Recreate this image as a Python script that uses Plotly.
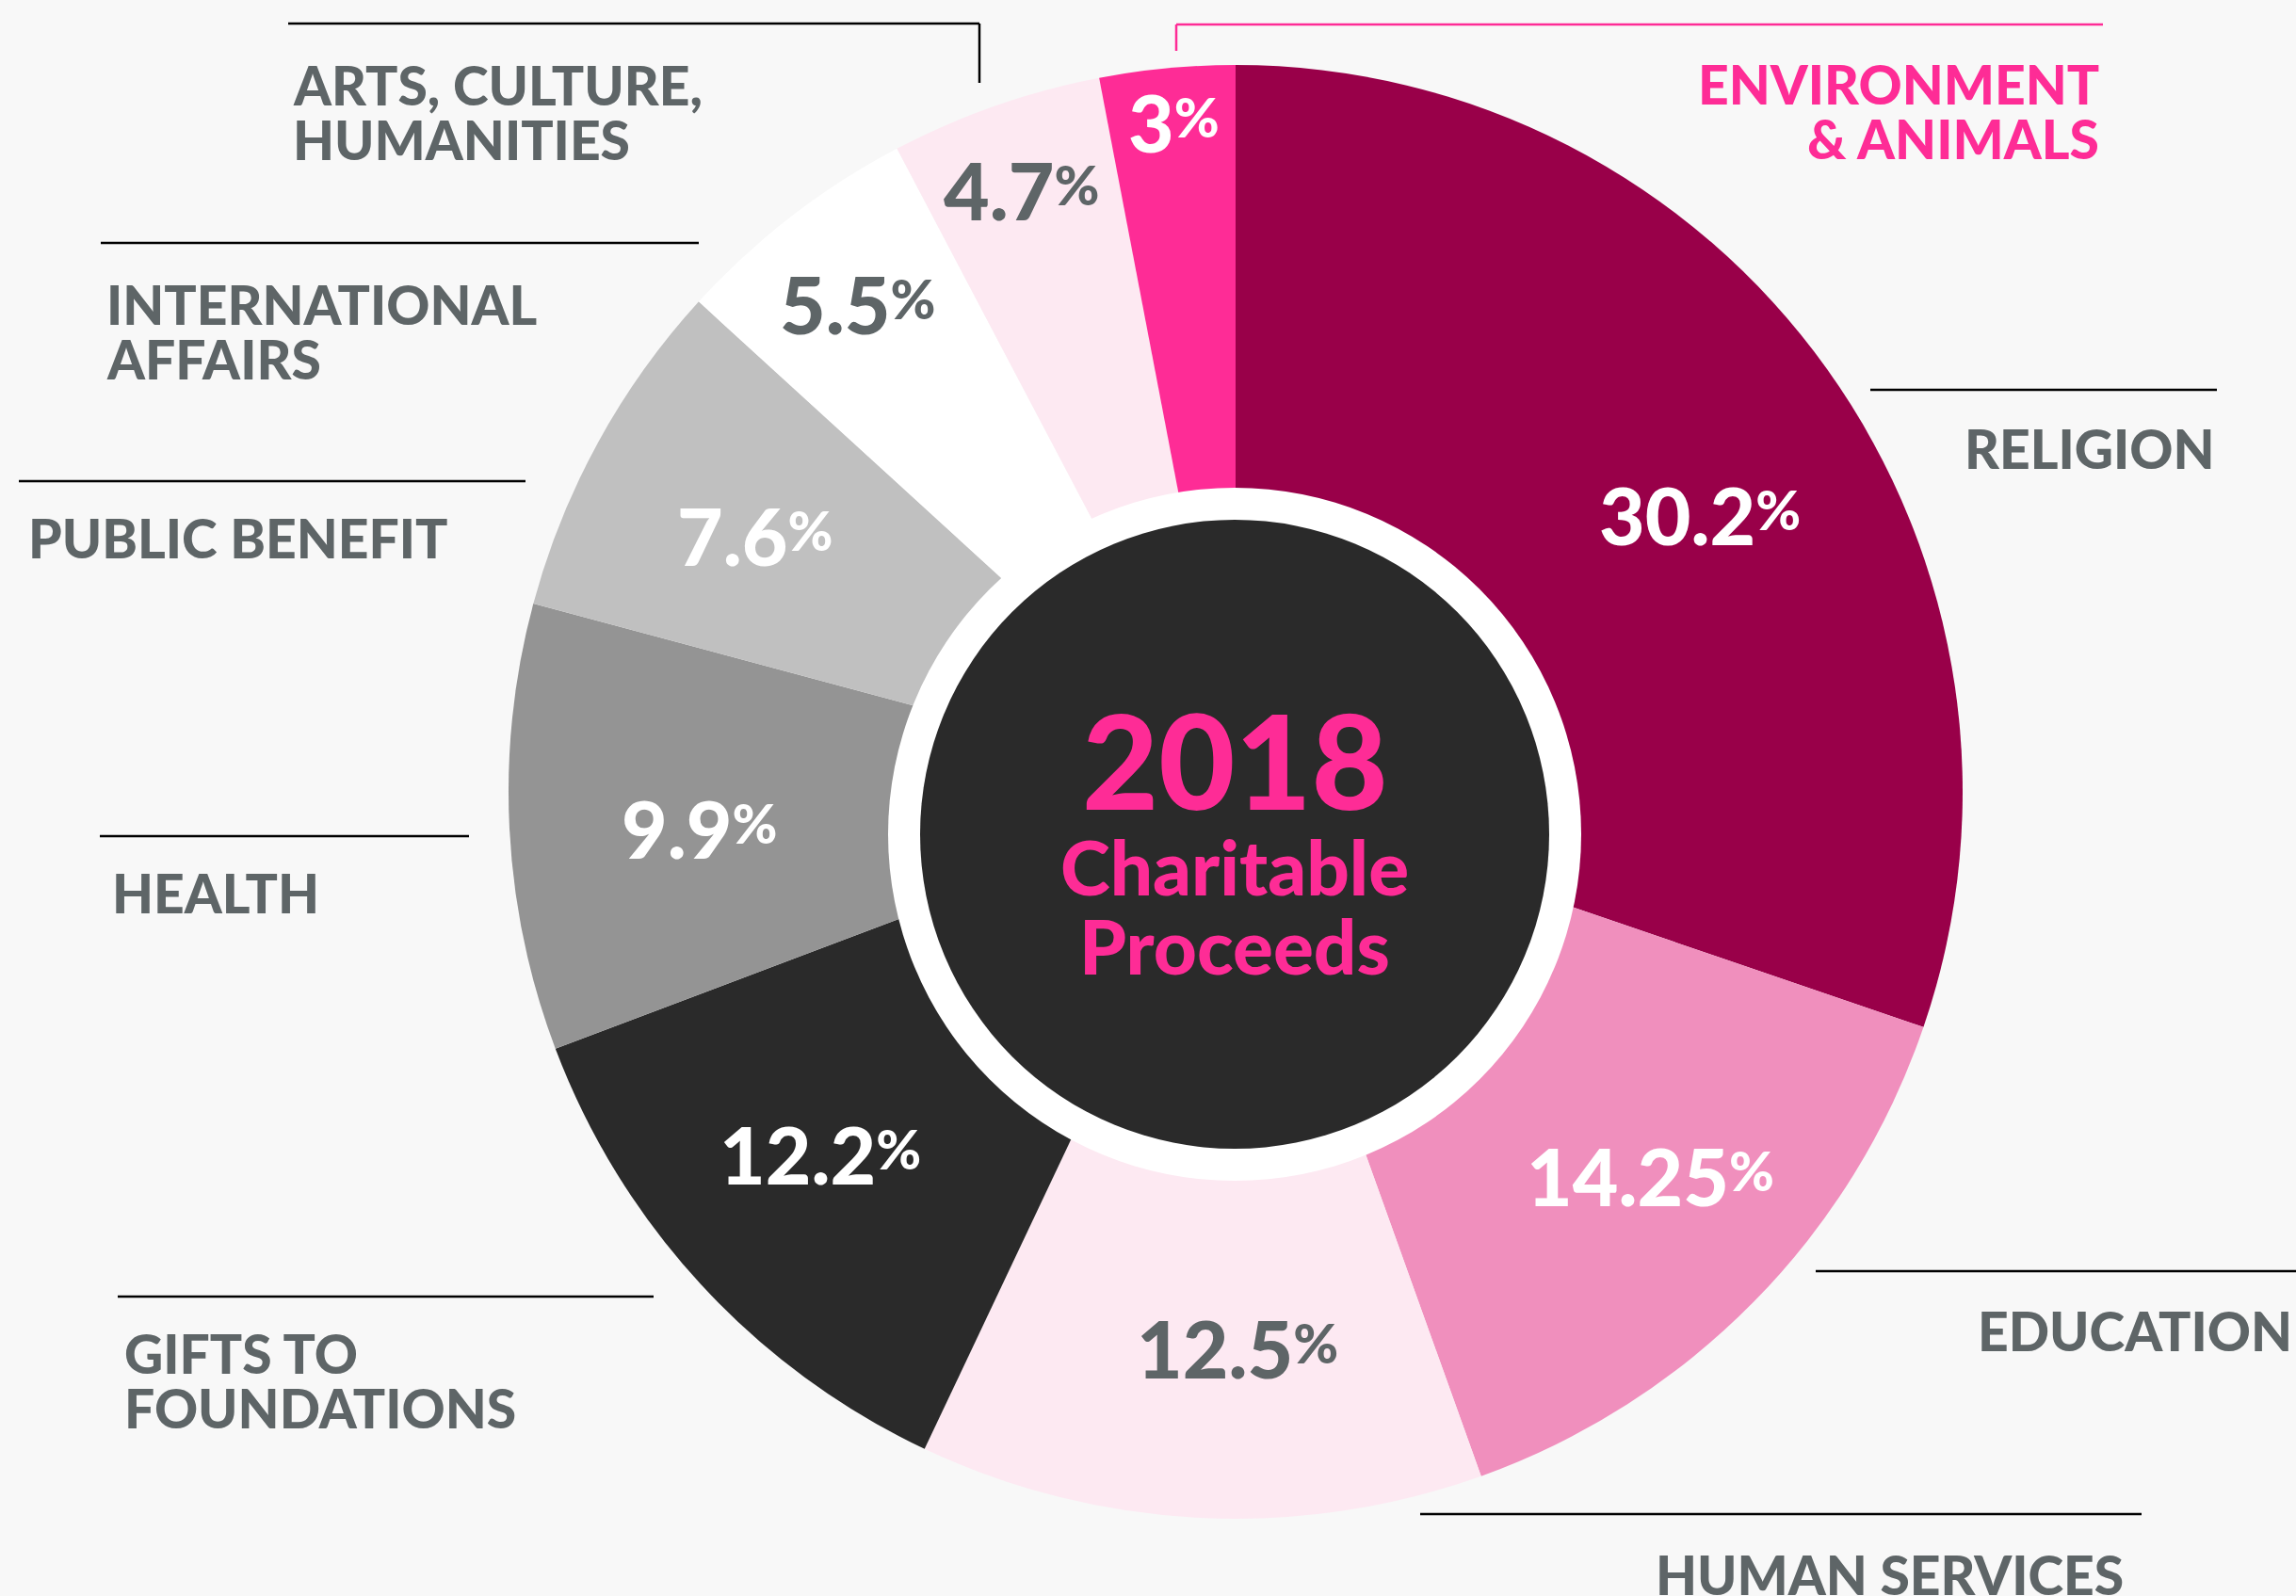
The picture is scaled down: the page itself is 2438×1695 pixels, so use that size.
import plotly.graph_objects as go

W, H = 2438, 1695

# data
categories = ["RELIGION", "EDUCATION", "HUMAN SERVICES", "GIFTS TO<br>FOUNDATIONS", "HEALTH",
              "PUBLIC BENEFIT", "INTERNATIONAL<br>AFFAIRS", "ARTS, CULTURE,<br>HUMANITIES",
              "ENVIRONMENT<br>& ANIMALS"]
shares = [30.2, 14.25, 12.5, 12.2, 9.9, 7.6, 5.5, 4.7, 3]
share_text = ["30.2", "14.25", "12.5", "12.2", "9.9", "7.6", "5.5", "4.7", "3"]
year = "2018"
subtitle = ["Charitable", "Proceeds"]

# styles
BG = "#f8f8f8"
GREY = "#5e6567"
PINK = "#fe2c96"
DARK = "#2a2a2a"
FONT = "Lato"
slice_colors = ["#990049", "#f08fbd", "#fde9f2", DARK, "#949494",
                "#c0c0c0", "#ffffff", "#fde9f2", PINK]
pct_colors = ["white", "white", GREY, "white", "white", "white", GREY, GREY, "white"]
label_colors = [GREY] * 8 + [PINK]

# pixel placement (top-left origin)
cx, cy, R = 1312, 841, 772
hole_c = (1311, 886)
pct_pos = [(1805, 546), (1752, 1248), (1314, 1431), (871, 1225), (742, 879),
           (801, 568), (910, 323), (1084, 202), (1246, 130)]
# (x, y of first line cap centre, anchor)
label_pos = [(2354, 476, "right"), (2436, 1413, "right"), (1756, 1672, "left"),
             (130, 1437, "left"), (117, 948, "left"), (28, 571, "left"),
             (111, 323, "left"), (309, 90, "left"), (2231, 89, "right")]
leaders = [
    (1986, 414, 2354, 414, "black"),
    (1928, 1350, 2438, 1350, "black"),
    (1508, 1608, 2274, 1608, "black"),
    (125, 1377, 694, 1377, "black"),
    (106, 888, 498, 888, "black"),
    (20, 511, 558, 511, "black"),
    (107, 258, 742, 258, "black"),
    (306, 25, 1040, 25, "black"),
    (1040, 25, 1040, 88, "black"),
    (1249, 26, 2233, 26, PINK),
    (1249, 26, 1249, 54, PINK),
]


def fx(x):
    return x / W


def fy(y):
    return 1 - y / H


fig = go.Figure(go.Pie(
    labels=[c.replace("<br>", " ") for c in categories],
    values=shares,
    sort=False,
    direction="clockwise",
    rotation=0,
    marker=dict(colors=slice_colors, line=dict(width=0)),
    textinfo="none",
    showlegend=False,
    domain=dict(x=[fx(cx - R), fx(cx + R)], y=[fy(cy + R), fy(cy - R)]),
))

shapes = []
# white ring and dark centre disc
for r, col in [(368, "white"), (334, DARK)]:
    shapes.append(dict(type="circle", xref="paper", yref="paper", layer="above",
                       x0=fx(hole_c[0] - r), x1=fx(hole_c[0] + r),
                       y0=fy(hole_c[1] + r), y1=fy(hole_c[1] - r),
                       fillcolor=col, line=dict(width=0)))
for x0, y0, x1, y1, col in leaders:
    shapes.append(dict(type="line", xref="paper", yref="paper", layer="above",
                       x0=fx(x0), y0=fy(y0), x1=fx(x1), y1=fy(y1),
                       line=dict(color=col, width=2.5)))

ann = []
for txt, col, (x, y) in zip(share_text, pct_colors, pct_pos):
    ann.append(dict(x=fx(x), y=fy(y), xref="paper", yref="paper", showarrow=False,
                    xanchor="center", yanchor="middle",
                    text=txt + "<span style='font-size:58px;baseline-shift:16px'>%</span>",
                    font=dict(family=FONT, size=84, color=col, weight=900)))

for txt, col, (x, y, anc) in zip(categories, label_colors, label_pos):
    for i, line in enumerate(txt.split("<br>")):
        ann.append(dict(x=fx(x), y=fy(y + i * 58), xref="paper", yref="paper",
                        showarrow=False, xanchor=anc, yanchor="middle", text=line,
                        font=dict(family=FONT, size=57, color=col, weight=900)))

ann.append(dict(x=fx(1311), y=fy(806), xref="paper", yref="paper", showarrow=False,
                xanchor="center", yanchor="middle", text=year,
                font=dict(family=FONT, size=140, color=PINK, weight=900)))
for txt, y in zip(subtitle, [920, 1004]):
    ann.append(dict(x=fx(1311), y=fy(y), xref="paper", yref="paper", showarrow=False,
                    xanchor="center", yanchor="middle", text=txt,
                    font=dict(family=FONT, size=80, color=PINK, weight=900)))

fig.update_layout(
    width=W, height=H,
    margin=dict(l=0, r=0, t=0, b=0),
    paper_bgcolor=BG, plot_bgcolor=BG,
    shapes=shapes, annotations=ann,
)

fig.write_html("out.html", config={"displayModeBar": False},
               post_script="document.body.style.margin='0';document.body.style.overflow='hidden';")
